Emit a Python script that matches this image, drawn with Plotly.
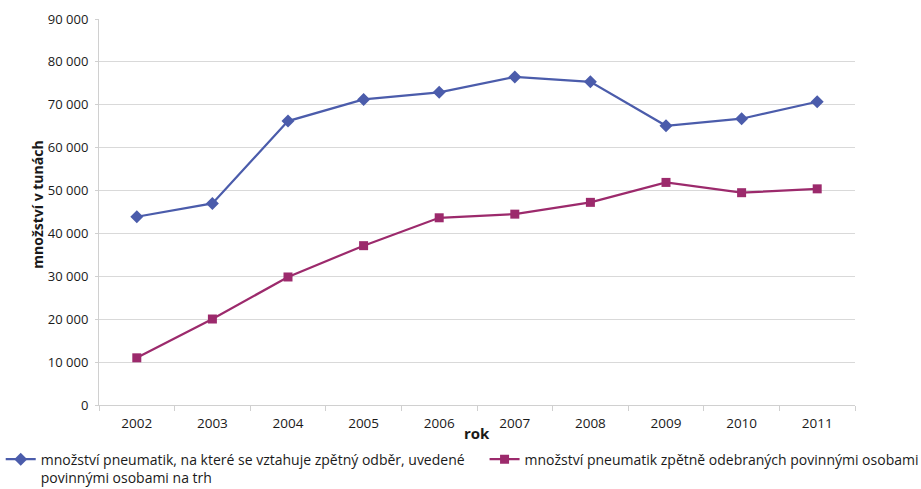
import plotly.graph_objects as go

years = ["2002", "2003", "2004", "2005", "2006", "2007", "2008", "2009", "2010", "2011"]
uvedene_na_trh = [43900, 47000, 66200, 71250, 72900, 76500, 75350, 65100, 66750, 70700]
zpetne_odebrane = [11000, 20050, 29850, 37150, 43650, 44500, 47250, 51900, 49500, 50400]
y_ticks = [0, 10000, 20000, 30000, 40000, 50000, 60000, 70000, 80000, 90000]

name_a = "množství pneumatik, na které se vztahuje zpětný odběr, uvedené<br>povinnými osobami na trh"
name_b = "množství pneumatik zpětně odebraných povinnými osobami"

blue = "#4B5CAB"
plum = "#9C2A6C"
font = "Open Sans, DejaVu Sans, sans-serif"

fig = go.Figure()
fig.add_trace(go.Scatter(
    x=years, y=uvedene_na_trh, name=name_a, mode="lines+markers",
    line=dict(color=blue, width=2.2),
    marker=dict(symbol="diamond", size=10, color=blue),
    legend="legend",
))
fig.add_trace(go.Scatter(
    x=years, y=zpetne_odebrane, name=name_b, mode="lines+markers",
    line=dict(color=plum, width=2.2),
    marker=dict(symbol="square", size=9, color=plum),
    legend="legend2",
))

legend_style = dict(
    orientation="h", yanchor="top", y=-0.1,
    font=dict(size=14, color="#1a1a1a"),
    valign="top", itemwidth=30, bgcolor="rgba(0,0,0,0)",
)

fig.update_layout(
    width=921, height=489,
    margin=dict(l=99, r=66, t=19, b=84, autoexpand=False),
    paper_bgcolor="white", plot_bgcolor="white",
    separators=", ",
    font=dict(family=font, size=12, color="#1a1a1a"),
    showlegend=True,
    legend=dict(x=-0.13, xanchor="left", **legend_style),
    legend2=dict(x=0.51, xanchor="left", **legend_style),
    xaxis=dict(
        type="category", range=[-0.5, 9.5],
        showgrid=False, showline=True, linecolor="#D0D0D0", linewidth=1,
        ticks="outside", tickson="boundaries", ticklen=5, tickcolor="#D0D0D0",
        ticklabelstandoff=6,
        tickfont=dict(size=13.5),
    ),
    yaxis=dict(
        range=[0, 90000], tickvals=y_ticks, tickformat=",d",
        showgrid=True, gridcolor="#D9D9D9", gridwidth=1,
        showline=True, linecolor="#D0D0D0", linewidth=1,
        ticks="outside", ticklen=3, tickcolor="#D0D0D0",
        ticklabelstandoff=4,
        tickfont=dict(size=13),
        zeroline=False,
    ),
    annotations=[
        dict(
            text="<b>rok</b>", xref="paper", yref="paper", x=0.5, y=-0.0725,
            xanchor="center", yanchor="middle", showarrow=False,
            font=dict(size=15, family=font, color="#1a1a1a"),
        ),
        dict(
            text="<b>množství v tunách</b>", xref="paper", yref="paper",
            x=-0.0815, y=0.52, xanchor="center", yanchor="middle",
            textangle=-90, showarrow=False,
            font=dict(size=14, family=font, color="#1a1a1a"),
        ),
    ],
)

fig.write_html("out.html")
